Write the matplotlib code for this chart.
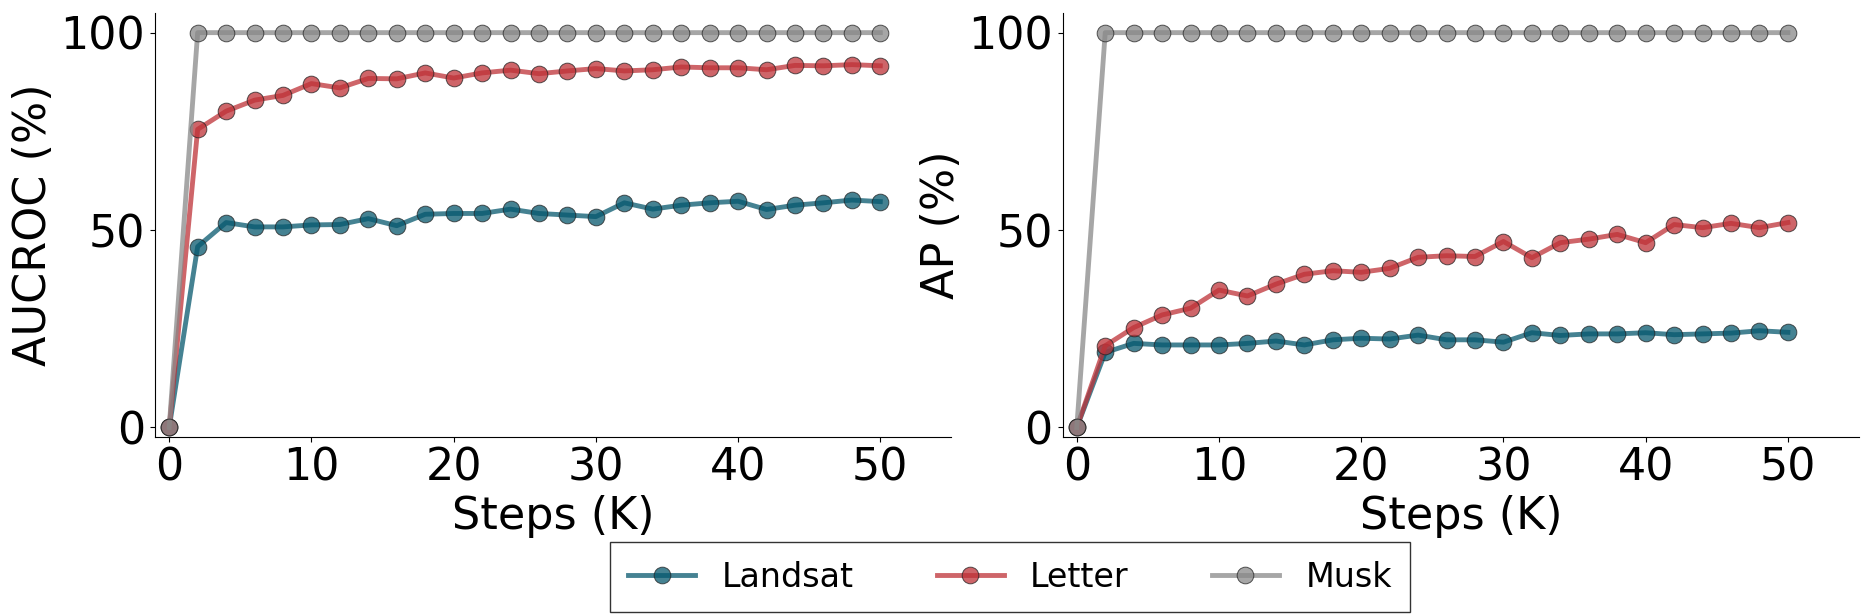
import matplotlib.pyplot as plt

# training steps (K)
steps = [0, 2, 4, 6, 8, 10, 12, 14, 16, 18, 20, 22, 24, 26, 28, 30,
         32, 34, 36, 38, 40, 42, 44, 46, 48, 50]

# AUCROC (%) per dataset
auc_landsat = [0, 45.8, 51.9, 50.8, 50.8, 51.3, 51.4, 52.9, 51.1, 54.0, 54.2, 54.2, 55.3,
               54.2, 53.8, 53.4, 56.9, 55.3, 56.3, 56.9, 57.3, 55.2, 56.3, 56.9, 57.6, 57.2]
auc_letter = [0, 75.5, 80.1, 82.9, 84.1, 87.1, 86.0, 88.4, 88.3, 89.8, 88.5, 89.8, 90.5,
              89.6, 90.3, 90.9, 90.3, 90.6, 91.3, 91.1, 91.1, 90.6, 91.7, 91.6, 91.9, 91.6]
auc_musk = [0] + [100] * 25

# AP (%) per dataset
ap_landsat = [0, 19.0, 21.3, 20.9, 20.9, 20.9, 21.3, 21.9, 20.9, 22.2, 22.6, 22.4, 23.4,
              22.2, 22.2, 21.6, 24.0, 23.3, 23.7, 23.7, 24.0, 23.5, 23.7, 23.9, 24.5, 24.1]
ap_letter = [0, 20.7, 25.3, 28.5, 30.2, 34.8, 33.3, 36.3, 38.8, 39.7, 39.3, 40.3, 43.1,
             43.5, 43.3, 47.1, 43.0, 46.8, 47.7, 48.9, 46.8, 51.4, 50.6, 51.7, 50.6, 51.9]
ap_musk = [0] + [100] * 25

names = ["Landsat", "Letter", "Musk"]
colors = ["#06586e", "#be3137", "#898989"]

fig = plt.figure(figsize=(18.74, 6.14), dpi=100)
ax1 = fig.add_axes([0.0827, 0.289, 0.425, 0.690])
ax2 = fig.add_axes([0.567, 0.289, 0.425, 0.690])

panels = [
    (ax1, [auc_landsat, auc_letter, auc_musk], "AUCROC (%)"),
    (ax2, [ap_landsat, ap_letter, ap_musk], "AP (%)"),
]

for ax, series, ylabel in panels:
    for name, vals, col in zip(names, series, colors):
        ax.plot(steps, vals, color=col, alpha=0.75, linewidth=3.5,
                marker="o", markersize=12, markeredgecolor="#222222",
                markeredgewidth=0.7, label=name)
    ax.set_xlim(-1, 55)
    ax.set_ylim(-2.3, 105)
    ax.set_xticks([0, 10, 20, 30, 40, 50])
    ax.set_yticks([0, 50, 100])
    ax.tick_params(labelsize=32)
    ax.set_xlabel("Steps (K)", fontsize=32)
    ax.set_ylabel(ylabel, fontsize=32)
    ax.spines["top"].set_visible(False)
    ax.spines["right"].set_visible(False)

handles, labels = ax1.get_legend_handles_labels()
fig.legend(handles, labels, loc="lower center", bbox_to_anchor=(0.539, 0.003),
           ncol=3, fontsize=24, frameon=True, fancybox=False,
           edgecolor="black", columnspacing=2.5, borderaxespad=0,
           borderpad=0.55)

plt.savefig("out.png", dpi=100)
